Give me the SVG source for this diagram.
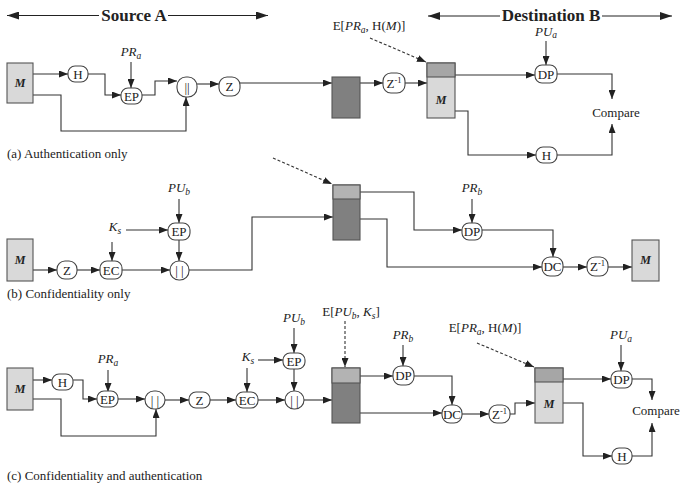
<svg xmlns="http://www.w3.org/2000/svg" width="681" height="484" viewBox="0 0 681 484">
<defs>
<style>
text{font-family:"Liberation Serif","Times New Roman",serif;fill:#222;}
.n{fill:#fff;stroke:#444;stroke-width:1.1;}
.t{font-size:13px;text-anchor:middle;}
.lbl{font-size:13px;text-anchor:middle;}
.cap{font-size:13px;}
.hd{font-size:17px;font-weight:bold;text-anchor:middle;}
.i{font-style:italic;}
.sb{font-style:italic;font-size:9.5px;}
.sp{font-size:8.5px;}
.mb{font-size:12px;font-weight:bold;font-style:italic;text-anchor:middle;}
.lt{fill:#d9d9d9;stroke:#555;stroke-width:1.1;}
.dk{fill:#808080;stroke:#555;stroke-width:1.1;}
.md{fill:#a6a6a6;stroke:#555;stroke-width:1.1;}
.ml{fill:#b3b3b3;stroke:#555;stroke-width:1.1;}
.c{fill:none;stroke:#333;stroke-width:1.1;marker-end:url(#ah);}
.d{fill:none;stroke:#333;stroke-width:1.1;stroke-dasharray:3,2;marker-end:url(#ah);}
.h{fill:none;stroke:#222;stroke-width:1.2;}
</style>
<marker id="ah" markerWidth="9" markerHeight="7" refX="9" refY="3.5" orient="auto" markerUnits="userSpaceOnUse"><path d="M0,0 L9,3.5 L0,7 z" fill="#222"/></marker>
<marker id="hh" markerWidth="12" markerHeight="8" refX="12" refY="4" orient="auto-start-reverse" markerUnits="userSpaceOnUse"><path d="M0,0 L12,4 L0,8 z" fill="#222"/></marker>
</defs>

<g id="headers">
<path class="h" d="M99,15.5 H7" marker-end="url(#hh)"/>
<path class="h" d="M168,15.5 H268" marker-end="url(#hh)"/>
<text class="hd" x="134" y="21">Source A</text>
<path class="h" d="M500,16 H428" marker-end="url(#hh)"/>
<path class="h" d="M602,16 H672" marker-end="url(#hh)"/>
<text class="hd" x="551" y="21">Destination B</text>
</g>

<g id="connectors">
<!-- (a) -->
<path class="c" d="M33,74 H68"/>
<path class="c" d="M88,74 H105 V95 H121"/>
<path class="c" d="M131,62 V88"/>
<path class="c" d="M142,95 H155 V81 H177"/>
<path class="c" d="M33,95 H61 V131 H186 V97"/>
<path class="c" d="M197,84 H219"/>
<path class="c" d="M240,83 H332"/>
<path class="c" d="M360,83 H383"/>
<path class="c" d="M405,83 H427"/>
<path class="d" d="M370,38 L426,62"/>
<path class="c" d="M455,75 H535"/>
<path class="c" d="M546,41 V65"/>
<path class="c" d="M557,74 H612 V99"/>
<path class="c" d="M455,111 H468 V155 H536"/>
<path class="c" d="M557,155 H612 V124"/>
<!-- (b) -->
<path class="d" d="M273,158 L332,184"/>
<path class="c" d="M33,270 H57"/>
<path class="c" d="M77,270 H100"/>
<path class="c" d="M112,242 V261"/>
<path class="c" d="M126,230 H168"/>
<path class="c" d="M179,199 V223"/>
<path class="c" d="M179,240 V261"/>
<path class="c" d="M122,270 H170"/>
<path class="c" d="M189,270 H252 V217 H333"/>
<path class="c" d="M360,192 H414 V230 H462"/>
<path class="c" d="M472,199 V223"/>
<path class="c" d="M482,230 H553 V257"/>
<path class="c" d="M360,219 H387 V267 H542"/>
<path class="c" d="M563,267 H587"/>
<path class="c" d="M608,267 H632"/>
<!-- (c) -->
<path class="c" d="M33,380 H52"/>
<path class="c" d="M73,380 H83 V399 H97"/>
<path class="c" d="M108,370 V392"/>
<path class="c" d="M118,399 H145"/>
<path class="c" d="M33,399 H61 V436 H156 V409"/>
<path class="c" d="M165,400 H189"/>
<path class="c" d="M210,400 H236"/>
<path class="c" d="M247,368 V392"/>
<path class="c" d="M258,360 H283"/>
<path class="c" d="M294,328 V353"/>
<path class="c" d="M294,369 V391"/>
<path class="c" d="M258,400 H285"/>
<path class="c" d="M304,400 H332"/>
<path class="d" d="M345,321 V367"/>
<path class="c" d="M360,376 H393"/>
<path class="c" d="M403,345 V366"/>
<path class="c" d="M414,376 H452 V405"/>
<path class="c" d="M360,413 H442"/>
<path class="c" d="M462,414 H489"/>
<path class="c" d="M510,414 H515 V403 H535"/>
<path class="d" d="M477,343 L534,367"/>
<path class="c" d="M563,379 H611"/>
<path class="c" d="M621,345 V371"/>
<path class="c" d="M632,379 H652 V400"/>
<path class="c" d="M563,403 H583 V456 H612"/>
<path class="c" d="M632,456 H652 V423"/>
</g>

<!-- ===== (a) ===== -->
<g id="a_M"><rect class="lt" x="7" y="63" width="26" height="40"/><text class="mb" x="20" y="87">M</text></g>
<g id="a_H"><rect class="n" x="68" y="66" width="20" height="16" rx="7"/><text class="t" x="78" y="78.5">H</text></g>
<g id="a_PRa"><text class="lbl" x="131" y="56"><tspan class="i">PR</tspan><tspan class="sb" dy="3">a</tspan></text></g>
<g id="a_EP"><rect class="n" x="121" y="88" width="21" height="16" rx="7"/><text class="t" x="131.5" y="100.5">EP</text></g>
<g id="a_cat"><rect class="n" x="177" y="77" width="20" height="20" rx="9"/><text class="t" x="187" y="91.5">||</text></g>
<g id="a_Z"><rect class="n" x="219" y="77" width="21" height="19" rx="8"/><text class="t" x="229.5" y="91">Z</text></g>
<g id="a_box"><rect class="dk" x="332" y="77" width="28" height="41"/></g>
<g id="a_Zinv"><rect class="n" x="383" y="73" width="22" height="20" rx="8"/><text class="t" x="394" y="88">Z<tspan class="sp" dy="-5">-1</tspan></text></g>
<g id="a_sig"><text class="lbl" x="369" y="30">E[<tspan class="i">PR</tspan><tspan class="sb" dy="3">a</tspan><tspan dy="-3">, H(</tspan><tspan class="i">M</tspan>)]</text></g>
<g id="a_stack"><rect class="lt" x="427" y="63" width="28" height="55"/><rect class="md" x="427" y="63" width="28" height="14"/><text class="mb" x="441" y="104">M</text></g>
<g id="a_PUa"><text class="lbl" x="546" y="36"><tspan class="i">PU</tspan><tspan class="sb" dy="2">a</tspan></text></g>
<g id="a_DP"><rect class="n" x="535" y="65" width="22" height="18" rx="7"/><text class="t" x="546" y="78.5">DP</text></g>
<g id="a_H2"><rect class="n" x="536" y="147" width="21" height="16" rx="7"/><text class="t" x="546.5" y="159.5">H</text></g>
<g id="a_cmp"><text class="lbl" x="616" y="117">Compare</text></g>
<text class="cap" x="7" y="158">(a) Authentication only</text>

<!-- ===== (b) ===== -->
<g id="b_M"><rect class="lt" x="7" y="239" width="26" height="42"/><text class="mb" x="20" y="264">M</text></g>
<g id="b_Z"><rect class="n" x="57" y="261" width="20" height="18" rx="8"/><text class="t" x="67" y="274.5">Z</text></g>
<g id="b_Ks"><text class="lbl" x="115" y="231"><tspan class="i">K</tspan><tspan class="sb" dy="3">s</tspan></text></g>
<g id="b_EC"><rect class="n" x="100" y="261" width="22" height="18" rx="7"/><text class="t" x="111" y="274.5">EC</text></g>
<g id="b_PUb"><text class="lbl" x="179" y="192"><tspan class="i">PU</tspan><tspan class="sb" dy="3">b</tspan></text></g>
<g id="b_EP"><rect class="n" x="168" y="223" width="22" height="17" rx="7"/><text class="t" x="179" y="236">EP</text></g>
<g id="b_cat"><rect class="n" x="170" y="261" width="19" height="19" rx="9"/><text class="t" x="179.5" y="275">| |</text></g>
<g id="b_stack"><rect class="dk" x="333" y="185" width="27" height="55"/><rect class="ml" x="333" y="185" width="27" height="14"/></g>
<g id="b_PRb"><text class="lbl" x="472" y="192"><tspan class="i">PR</tspan><tspan class="sb" dy="3">b</tspan></text></g>
<g id="b_DP"><rect class="n" x="462" y="223" width="20" height="17" rx="7"/><text class="t" x="472" y="236">DP</text></g>
<g id="b_DC"><rect class="n" x="542" y="257" width="21" height="19" rx="8"/><text class="t" x="552.5" y="271">DC</text></g>
<g id="b_Zinv"><rect class="n" x="587" y="257" width="21" height="19" rx="8"/><text class="t" x="597.5" y="271">Z<tspan class="sp" dy="-5">-1</tspan></text></g>
<g id="b_Mout"><rect class="lt" x="632" y="240" width="27" height="41"/><text class="mb" x="645.5" y="264">M</text></g>
<text class="cap" x="7" y="298">(b) Confidentiality only</text>

<!-- ===== (c) ===== -->
<g id="c_M"><rect class="lt" x="7" y="368" width="26" height="42"/><text class="mb" x="20" y="393">M</text></g>
<g id="c_H"><rect class="n" x="52" y="374" width="21" height="16" rx="7"/><text class="t" x="62.5" y="386.5">H</text></g>
<g id="c_PRa"><text class="lbl" x="108" y="363"><tspan class="i">PR</tspan><tspan class="sb" dy="3">a</tspan></text></g>
<g id="c_EP"><rect class="n" x="97" y="391" width="21" height="16" rx="7"/><text class="t" x="107.5" y="403.5">EP</text></g>
<g id="c_cat1"><rect class="n" x="145" y="391" width="20" height="18" rx="9"/><text class="t" x="155" y="404.5">| |</text></g>
<g id="c_Z"><rect class="n" x="189" y="392" width="21" height="16" rx="7"/><text class="t" x="199.5" y="404.5">Z</text></g>
<g id="c_Ks"><text class="lbl" x="248" y="361"><tspan class="i">K</tspan><tspan class="sb" dy="3">s</tspan></text></g>
<g id="c_EC"><rect class="n" x="236" y="392" width="22" height="16" rx="7"/><text class="t" x="247" y="404.5">EC</text></g>
<g id="c_PUb"><text class="lbl" x="294" y="322"><tspan class="i">PU</tspan><tspan class="sb" dy="3">b</tspan></text></g>
<g id="c_EP2"><rect class="n" x="283" y="353" width="22" height="16" rx="7"/><text class="t" x="294" y="365.5">EP</text></g>
<g id="c_cat2"><rect class="n" x="285" y="391" width="19" height="18" rx="9"/><text class="t" x="294.5" y="404.5">| |</text></g>
<g id="c_key"><text class="lbl" x="351" y="316">E[<tspan class="i">PU</tspan><tspan class="sb" dy="3">b</tspan><tspan dy="-3">, </tspan><tspan class="i">K</tspan><tspan class="sb" dy="3">s</tspan><tspan dy="-3">]</tspan></text></g>
<g id="c_stack1"><rect class="dk" x="332" y="368" width="28" height="55"/><rect class="ml" x="332" y="368" width="28" height="15"/></g>
<g id="c_PRb"><text class="lbl" x="403" y="339"><tspan class="i">PR</tspan><tspan class="sb" dy="3">b</tspan></text></g>
<g id="c_DP"><rect class="n" x="393" y="366" width="21" height="19" rx="8"/><text class="t" x="403.5" y="380">DP</text></g>
<g id="c_DC"><rect class="n" x="442" y="405" width="20" height="18" rx="8"/><text class="t" x="452" y="418.5">DC</text></g>
<g id="c_Zinv"><rect class="n" x="489" y="405" width="21" height="18" rx="8"/><text class="t" x="499.5" y="418.5">Z<tspan class="sp" dy="-5">-1</tspan></text></g>
<g id="c_sig"><text class="lbl" x="485" y="332">E[<tspan class="i">PR</tspan><tspan class="sb" dy="3">a</tspan><tspan dy="-3">, H(</tspan><tspan class="i">M</tspan>)]</text></g>
<g id="c_stack2"><rect class="lt" x="535" y="368" width="28" height="55"/><rect class="md" x="535" y="368" width="28" height="14"/><text class="mb" x="549" y="408">M</text></g>
<g id="c_PUa"><text class="lbl" x="621" y="339"><tspan class="i">PU</tspan><tspan class="sb" dy="3">a</tspan></text></g>
<g id="c_DP2"><rect class="n" x="611" y="371" width="21" height="17" rx="7"/><text class="t" x="621.5" y="384">DP</text></g>
<g id="c_H2"><rect class="n" x="612" y="448" width="20" height="16" rx="7"/><text class="t" x="622" y="460.5">H</text></g>
<g id="c_cmp"><text class="lbl" x="656" y="415">Compare</text></g>
<text class="cap" x="7" y="480">(c) Confidentiality and authentication</text>
</svg>
